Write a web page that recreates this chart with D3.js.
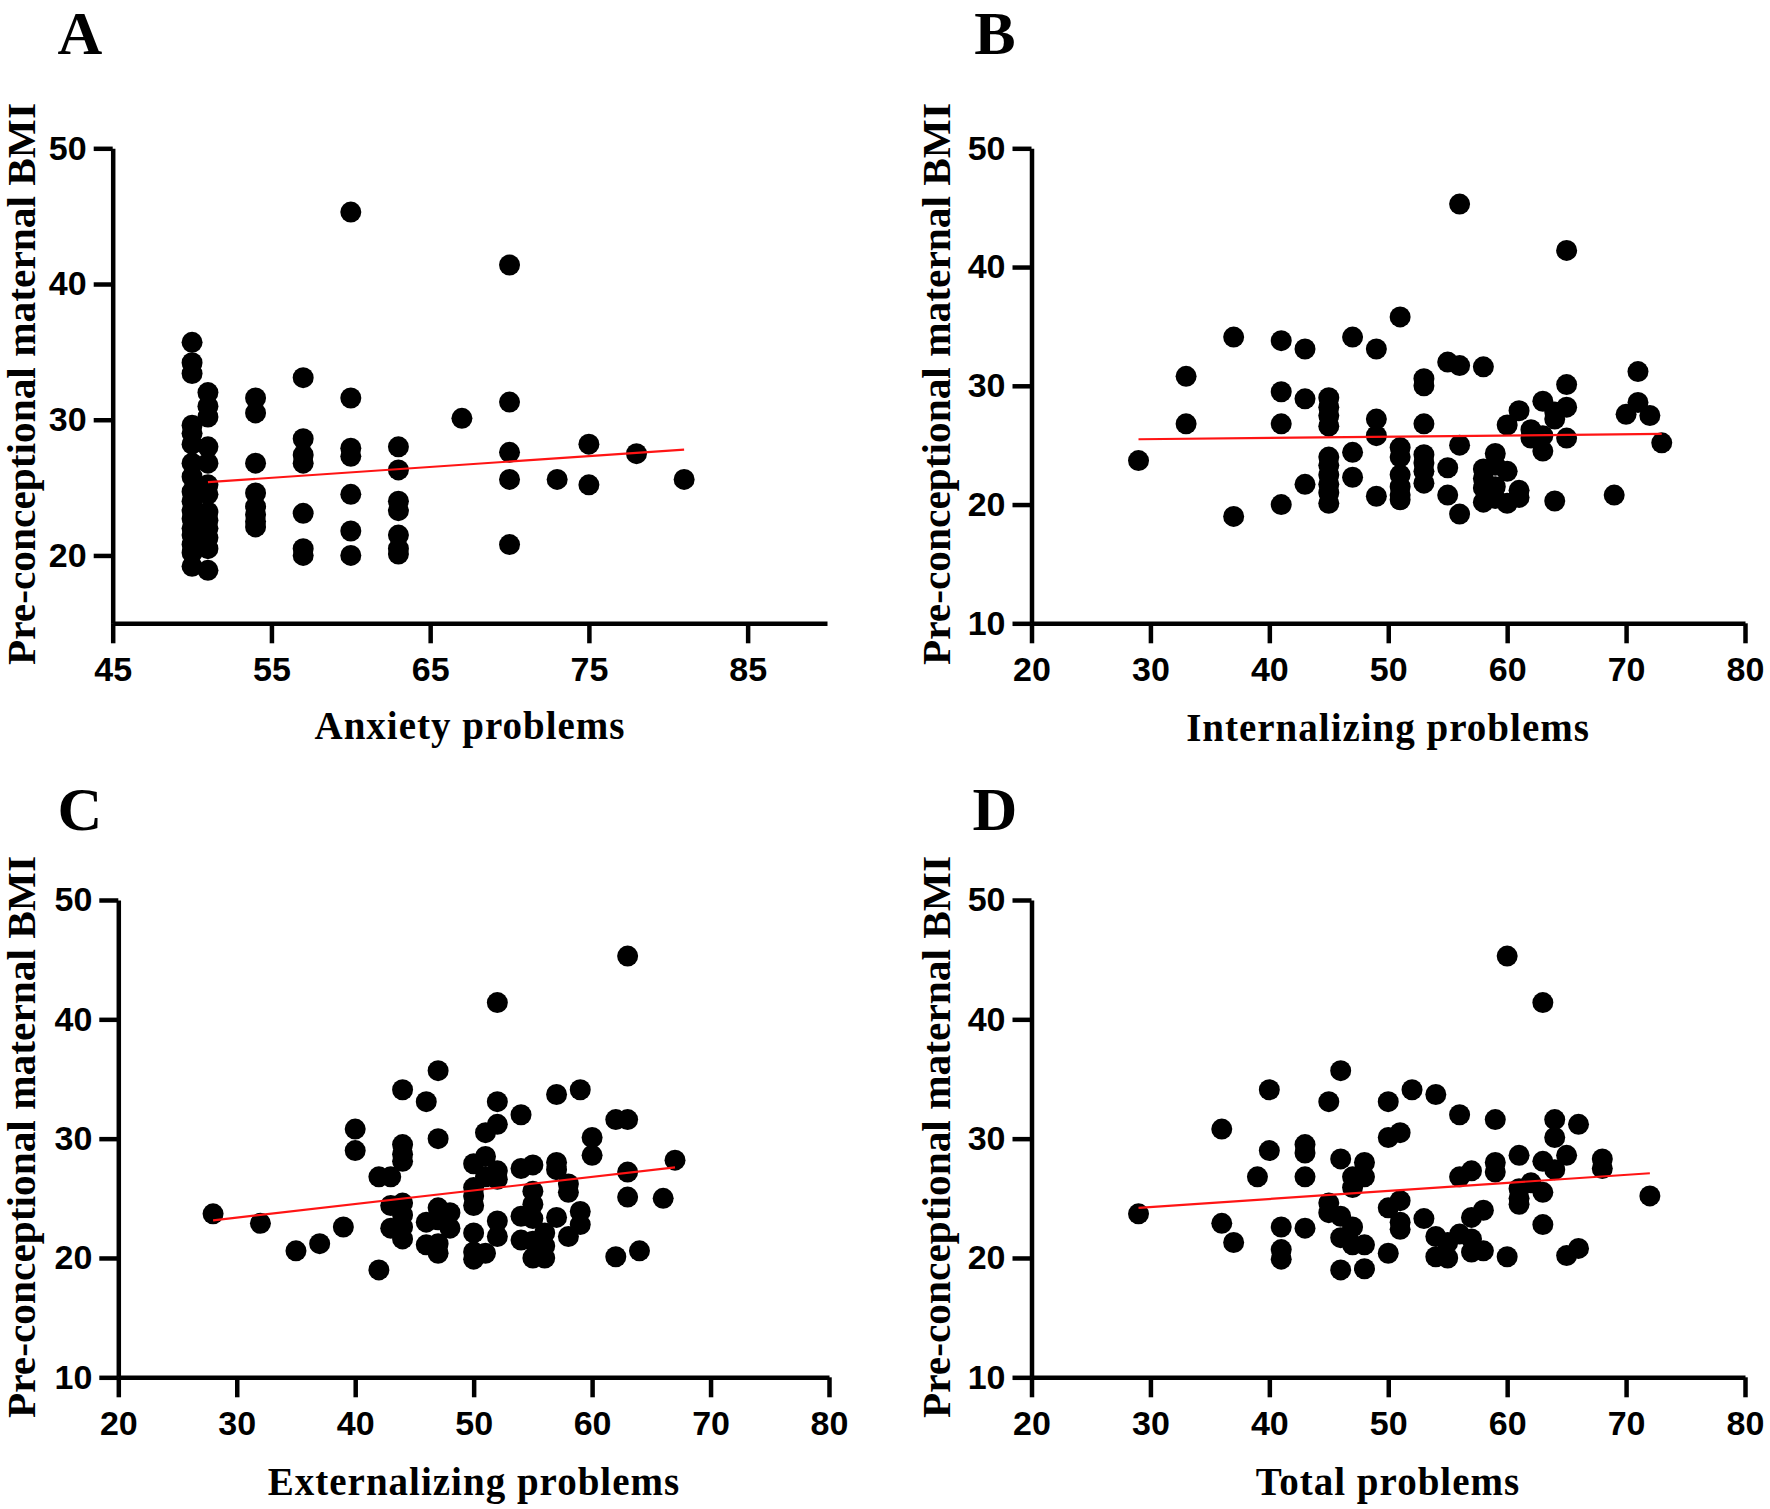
<!DOCTYPE html>
<html>
<head>
<meta charset="utf-8">
<script src="https://cdn.jsdelivr.net/npm/d3@7"></script>
<style>
  body { margin: 0; background: #fff; }
  .tick text { font-family: "Liberation Sans", Arial, sans-serif; font-weight: bold; }
</style>
</head>
<body>
<div id="paper"></div>
<script>
// four scatter panels: maternal BMI vs child problem scores

const yTitle = "Pre-conceptional maternal BMI";

// A - anxiety problems
const anxietyScore = [
  50,50,50,50,50,50,50,50,50,50,50,50,50,50,50,50,50,
  51,51,51,51,51,51,51,51,51,51,51,51,51,
  54,54,54,54,54,54,54,54,
  57,57,57,57,57,57,57,
  60,60,60,60,60,60,60,
  63,63,63,63,63,63,63,
  67, 70,70,70,70,70, 73, 75,75, 78, 81
];
const anxietyBMI = [
  35.7,34.2,33.4,29.6,29.0,28.2,26.8,25.8,24.7,24.0,23.3,22.7,22.0,21.5,20.8,20.2,19.2,
  32.0,31.0,30.2,28.0,26.8,25.2,24.5,23.2,22.6,22.0,21.3,20.5,18.9,
  31.6,30.5,26.8,24.6,23.6,23.0,22.5,22.1,
  33.1,28.6,27.4,26.8,23.1,20.5,20.0,
  45.3,31.6,27.9,27.3,24.5,21.8,20.0,
  28.0,26.3,24.0,23.3,21.5,20.5,20.1,
  30.1, 41.4,31.3,27.6,25.6,20.8, 25.6, 28.2,25.2, 27.5, 25.6
];
const anxietyFitX = [51, 81];
const anxietyFitY = [25.4, 27.8];

// B - internalizing problems
const internalScore = [
  29, 33,33, 37,37, 41,41,41,41, 43,43,43,
  45,45,45,45,45,45,45,45,45,45,
  47,47,47, 49,49,49,49,
  51,51,51,51,51,51,51,
  53,53,53,53,53,53,53,
  55,55,55, 56,56,56,56,
  58,58,58,58,58, 59,59,59,59, 60,60,60, 61,61,61, 62,62,
  63,63,63, 64,64,64, 65,65,65,65, 69, 70, 71,71, 72, 73
];
const internalBMI = [
  23.7, 30.8,26.8, 34.1,19.0, 33.8,29.5,26.8,20.0, 33.1,28.9,21.7,
  29.0,28.2,27.5,26.6,24.0,23.3,22.5,21.7,21.0,20.1,
  34.1,24.4,22.3, 33.1,27.2,25.8,20.7,
  35.8,24.8,24.0,22.5,21.5,20.8,20.4,
  30.6,30.0,26.8,24.2,23.5,22.8,21.8,
  32.0,23.1,20.8, 45.3,31.7,25.0,19.2,
  31.6,23.0,22.2,21.4,20.2, 24.3,23.3,21.5,20.5, 26.7,22.8,20.1, 27.9,21.2,20.6, 26.3,25.6,
  28.7,25.8,24.5, 27.8,27.2,20.3, 41.4,30.1,28.2,25.6, 20.8, 27.6, 31.2,28.6, 27.5, 25.2
];
const internalFitX = [29, 73];
const internalFitY = [25.5, 25.95];

// C - externalizing problems
const externalScore = [
  28, 32, 35, 37, 39, 40,40, 42,42, 43,43,43,
  44,44,44,44,44,44,44,44, 46,46,46,
  47,47,47,47,47,47, 48,48,
  50,50,50,50,50,50,50, 51,51,51,51,
  52,52,52,52,52,52,52, 54,54,54,54,
  55,55,55,55,55,55, 56,56,56,
  57,57,57,57, 58,58,58, 59,59,59, 60,60,
  62,62, 63,63,63,63, 64, 66, 67
];
const externalBMI = [
  23.7, 22.9, 20.6, 21.2, 22.6, 30.8,29.0, 26.8,19.0, 26.8,24.4,22.5,
  34.1,29.5,28.7,28.1,24.6,23.6,22.6,21.6, 33.1,23.0,21.1,
  35.7,30.0,24.2,23.2,21.2,20.4, 23.8,22.5,
  27.9,25.9,25.2,24.4,22.1,20.5,19.9, 30.5,28.5,26.8,20.4,
  41.4,33.1,31.2,27.3,26.6,23.1,21.8, 32.0,27.5,23.5,21.5,
  27.8,25.6,24.5,23.3,21.4,20.0, 22.1,21.0,20.0,
  33.7,28.0,27.4,23.4, 26.2,25.5,21.8, 34.1,23.9,22.8, 30.1,28.6,
  31.6,20.1, 45.3,31.6,27.2,25.1, 20.6, 25.0, 28.2
];
const externalFitX = [28, 67];
const externalFitY = [23.15, 27.6];

// D - total problems
const totalScore = [
  29, 36,36, 37, 39, 40,40, 41,41,41, 43,43,43,43,
  45,45,45, 46,46,46,46,46, 47,47,47,47, 48,48,48,48,
  50,50,50,50, 51,51,51,51, 52, 53, 54,54,54, 55,55,
  56,56,56, 57,57,57,57, 58,58, 59,59,59, 60,60,
  61,61,61,61, 62, 63,63,63,63, 64,64,64, 65,65, 66,66, 68,68, 72
];
const totalBMI = [
  23.7, 30.8,22.9, 21.3, 26.8, 34.1,29.0, 22.6,20.7,19.9, 29.5,28.8,26.8,22.5,
  33.1,24.6,23.8, 35.7,28.3,23.5,21.7,19.0, 26.8,25.9,22.6,21.1, 28.0,26.8,21.1,19.1,
  33.1,30.1,24.2,20.4, 30.5,24.8,23.0,22.4, 34.1, 23.3, 33.7,21.8,20.1, 21.3,20.0,
  32.0,26.8,22.0, 27.3,23.4,21.6,20.5, 24.0,20.6, 31.6,28.0,27.2, 45.3,20.1,
  28.6,25.8,25.0,24.5, 26.3, 41.4,28.1,25.5,22.8, 31.6,30.1,27.4, 28.6,20.2, 31.2,20.8, 28.3,27.5, 25.2
];
const totalFitX = [29, 72];
const totalFitY = [24.2, 27.1];

const stdTicks = [20, 30, 40, 50, 60, 70, 80];
const bmiTicks = [10, 20, 30, 40, 50];

const panels = [
  { tag: "A", xs: anxietyScore, ys: anxietyBMI, fx: anxietyFitX, fy: anxietyFitY,
    xTitle: "Anxiety problems", xDom: [45, 90], xTicks: [45, 55, 65, 75, 85],
    yDom: [15, 50], yTicks: [20, 30, 40, 50],
    xr: [112.7, 827], yr: [623.3, 148.3], ox: 0, oy: 0,
    tagY: 54, ty: 384, xty: 739, xtx: 470 },
  { tag: "B", xs: internalScore, ys: internalBMI, fx: internalFitX, fy: internalFitY,
    xTitle: "Internalizing problems", xDom: [20, 80], xTicks: stdTicks,
    yDom: [10, 50], yTicks: bmiTicks,
    xr: [1031.5, 1745], yr: [623.3, 148.3], ox: 915, oy: 0,
    tagY: 54, ty: 384, xty: 741, xtx: 1388 },
  { tag: "C", xs: externalScore, ys: externalBMI, fx: externalFitX, fy: externalFitY,
    xTitle: "Externalizing problems", xDom: [20, 80], xTicks: stdTicks,
    yDom: [10, 50], yTicks: bmiTicks,
    xr: [118.3, 829], yr: [1377.3, 900], ox: 0, oy: 778,
    tagY: 830, ty: 1137, xty: 1495, xtx: 474 },
  { tag: "D", xs: totalScore, ys: totalBMI, fx: totalFitX, fy: totalFitY,
    xTitle: "Total problems", xDom: [20, 80], xTicks: stdTicks,
    yDom: [10, 50], yTicks: bmiTicks,
    xr: [1031.5, 1745], yr: [1377.3, 900], ox: 915, oy: 778,
    tagY: 830, ty: 1137, xty: 1495, xtx: 1388 }
];

const svg = d3.select("#paper").append("svg")
  .attr("width", 1770).attr("height", 1509)
  .style("background-color", "#fff");

const serif = "'Liberation Serif', 'Times New Roman', serif";

panels.forEach((p) => {
  const x = d3.scaleLinear().domain(p.xDom).range(p.xr);
  const y = d3.scaleLinear().domain(p.yDom).range(p.yr);
  const g = svg.append("g");

  // axes
  const xAxis = g.append("g")
    .attr("transform", `translate(0,${p.yr[0]})`)
    .call(d3.axisBottom(x).tickValues(p.xTicks).tickSize(20).tickSizeOuter(0).tickPadding(14));
  const yAxis = g.append("g")
    .attr("transform", `translate(${p.xr[0]},0)`)
    .call(d3.axisLeft(y).tickValues(p.yTicks).tickSize(19).tickSizeOuter(0).tickPadding(7));

  [xAxis, yAxis].forEach((a) => {
    a.select(".domain").attr("stroke", "#000").attr("stroke-width", 4.5);
    a.selectAll(".tick line").attr("stroke", "#000").attr("stroke-width", 4.5);
    a.selectAll(".tick text").attr("fill", "#000").style("font-size", "34px");
  });

  // points
  g.selectAll("circle")
    .data(p.xs.map((v, i) => [v, p.ys[i]]))
    .join("circle")
    .attr("cx", (d) => x(d[0]))
    .attr("cy", (d) => y(d[1]))
    .attr("r", 10.5)
    .attr("fill", "#000");

  // fitted line
  g.append("line")
    .attr("x1", x(p.fx[0])).attr("y1", y(p.fy[0]))
    .attr("x2", x(p.fx[1])).attr("y2", y(p.fy[1]))
    .attr("stroke", "#ff1414")
    .attr("stroke-width", 2.2);

  // panel letter
  g.append("text")
    .attr("x", 80 + p.ox).attr("y", p.tagY)
    .attr("text-anchor", "middle")
    .style("font-family", serif)
    .style("font-weight", "bold")
    .style("font-size", "62px")
    .text(p.tag);

  // y title
  g.append("text")
    .attr("transform", `translate(${35 + p.ox},${p.ty}) rotate(-90)`)
    .attr("text-anchor", "middle")
    .attr("textLength", 562)
    .attr("lengthAdjust", "spacingAndGlyphs")
    .style("font-family", serif)
    .style("font-weight", "bold")
    .style("font-size", "39px")
    .text(yTitle);

  // x title
  g.append("text")
    .attr("x", p.xtx)
    .attr("y", p.xty)
    .attr("text-anchor", "middle")
    .style("font-family", serif)
    .style("font-weight", "bold")
    .style("font-size", "39px")
    .style("letter-spacing", "1px")
    .text(p.xTitle);
});
</script>
</body>
</html>
